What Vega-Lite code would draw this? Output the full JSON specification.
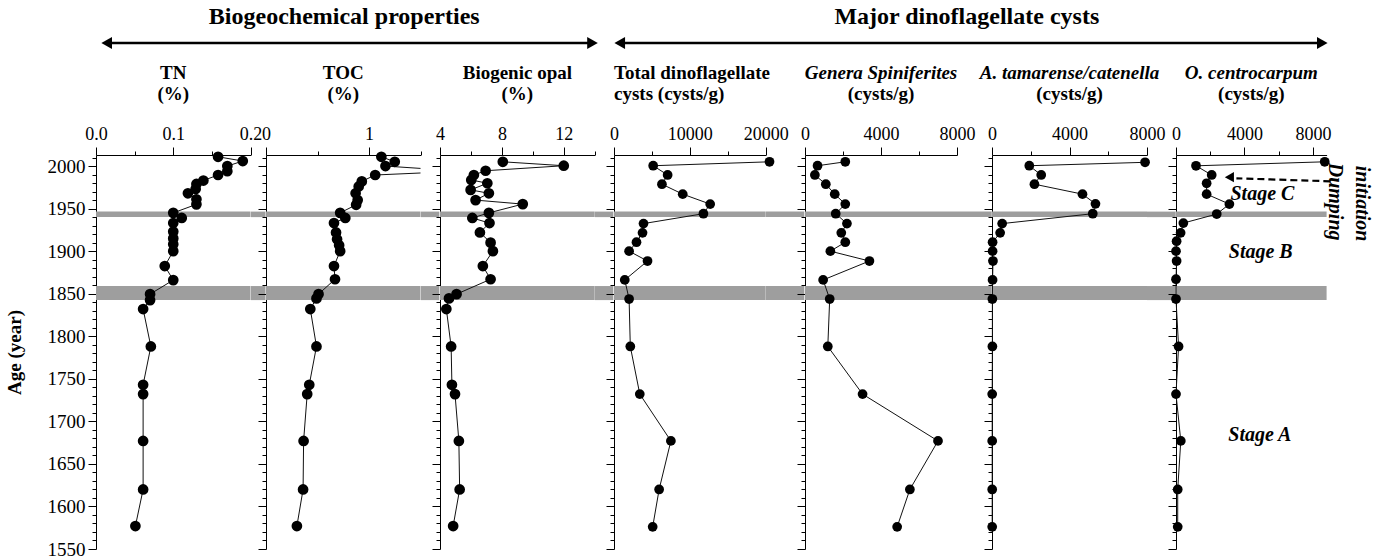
{
  "$schema": "https://vega.github.io/schema/vega-lite/v6.json",
  "background": "white",
  "padding": {"left": 5, "top": 4, "right": 2, "bottom": 0},
  "config": {
    "view": {"stroke": null},
    "font": "Liberation Serif",
    "axis": {"labelFont": "Liberation Serif", "labelFontSize": 18, "labelColor": "#000", "domainColor": "#000", "tickColor": "#000", "grid": false, "zindex": 1, "titleFont": "Liberation Serif", "titleColor": "#000", "labelFlush": false, "labelOverlap": false},
    "title": {"font": "Liberation Serif", "fontSize": 19, "fontWeight": "bold", "color": "#000", "subtitleFont": "Liberation Serif", "subtitleFontSize": 19, "subtitleFontWeight": "bold", "subtitleColor": "#000", "subtitlePadding": 2, "anchor": "middle", "frame": "group", "offset": 21},
    "text": {"font": "Liberation Serif"}
  },
  "datasets": {
    "tn": [
      {"age": 2010.9, "value": 0.158}, {"age": 2005.9, "value": 0.19}, {"age": 2000, "value": 0.17}, {"age": 1994, "value": 0.17}, {"age": 1989.5, "value": 0.158}, {"age": 1983, "value": 0.139}, {"age": 1979, "value": 0.13}, {"age": 1973, "value": 0.129}, {"age": 1968, "value": 0.119}, {"age": 1961, "value": 0.13}, {"age": 1955, "value": 0.13}, {"age": 1945, "value": 0.1}, {"age": 1939, "value": 0.111}, {"age": 1933, "value": 0.1}, {"age": 1923, "value": 0.1}, {"age": 1915, "value": 0.1}, {"age": 1908, "value": 0.1}, {"age": 1900, "value": 0.1}, {"age": 1882.5, "value": 0.089}, {"age": 1866, "value": 0.1}, {"age": 1849.5, "value": 0.07}, {"age": 1842.5, "value": 0.07}, {"age": 1832, "value": 0.061}, {"age": 1788, "value": 0.071}, {"age": 1743, "value": 0.061}, {"age": 1732, "value": 0.061}, {"age": 1677, "value": 0.061}, {"age": 1620, "value": 0.061}, {"age": 1577, "value": 0.051}
    ],
    "toc": [
      {"age": 2010.9, "value": 1.12}, {"age": 2005, "value": 1.25}, {"age": 2000, "value": 1.16}, {"age": 1994, "value": 1.9}, {"age": 1989.5, "value": 1.06}, {"age": 1982, "value": 0.93}, {"age": 1976, "value": 0.9}, {"age": 1968, "value": 0.87}, {"age": 1960, "value": 0.89}, {"age": 1954.5, "value": 0.875}, {"age": 1945, "value": 0.72}, {"age": 1939, "value": 0.77}, {"age": 1933, "value": 0.66}, {"age": 1922, "value": 0.68}, {"age": 1914, "value": 0.69}, {"age": 1907, "value": 0.71}, {"age": 1900, "value": 0.72}, {"age": 1882.5, "value": 0.66}, {"age": 1867, "value": 0.67}, {"age": 1849.5, "value": 0.51}, {"age": 1844.5, "value": 0.49}, {"age": 1832, "value": 0.43}, {"age": 1788, "value": 0.49}, {"age": 1743, "value": 0.42}, {"age": 1732, "value": 0.4}, {"age": 1677, "value": 0.365}, {"age": 1620, "value": 0.36}, {"age": 1577, "value": 0.3}
    ],
    "opal": [
      {"age": 2005, "value": 8.06}, {"age": 2000.4, "value": 12.0}, {"age": 1994.5, "value": 6.95}, {"age": 1989.5, "value": 6.19}, {"age": 1983.7, "value": 6.02}, {"age": 1979.8, "value": 7.06}, {"age": 1972, "value": 5.98}, {"age": 1968, "value": 7.16}, {"age": 1960, "value": 6.3}, {"age": 1955.3, "value": 9.35}, {"age": 1945, "value": 7.16}, {"age": 1939, "value": 6.09}, {"age": 1933, "value": 7.2}, {"age": 1922, "value": 6.58}, {"age": 1910, "value": 7.27}, {"age": 1900, "value": 7.42}, {"age": 1882.5, "value": 6.77}, {"age": 1867, "value": 7.27}, {"age": 1849.5, "value": 5.07}, {"age": 1844.5, "value": 4.58}, {"age": 1832, "value": 4.41}, {"age": 1788, "value": 4.72}, {"age": 1743, "value": 4.77}, {"age": 1732, "value": 4.97}, {"age": 1677, "value": 5.22}, {"age": 1620, "value": 5.27}, {"age": 1577, "value": 4.85}
    ],
    "total": [
      {"age": 2005, "value": 20500}, {"age": 2000.4, "value": 5165}, {"age": 1989.5, "value": 7070}, {"age": 1978.7, "value": 6320}, {"age": 1967, "value": 9060}, {"age": 1955.3, "value": 12680}, {"age": 1944, "value": 11790}, {"age": 1932.4, "value": 3890}, {"age": 1921.5, "value": 3760}, {"age": 1910.5, "value": 2965}, {"age": 1900, "value": 1990}, {"age": 1888.4, "value": 4420}, {"age": 1866.2, "value": 1420}, {"age": 1843.7, "value": 1990}, {"age": 1788, "value": 2150}, {"age": 1732, "value": 3400}, {"age": 1677, "value": 7500}, {"age": 1620, "value": 5950}, {"age": 1576, "value": 5100}
    ],
    "spin": [
      {"age": 2005, "value": 2120}, {"age": 2000.4, "value": 660}, {"age": 1989.5, "value": 520}, {"age": 1978.7, "value": 1095}, {"age": 1967, "value": 1565}, {"age": 1955.3, "value": 2120}, {"age": 1944, "value": 1617}, {"age": 1932.4, "value": 2207}, {"age": 1921.5, "value": 1910}, {"age": 1910.5, "value": 2120}, {"age": 1900, "value": 1335}, {"age": 1888.4, "value": 3390}, {"age": 1866.2, "value": 955}, {"age": 1843.7, "value": 1300}, {"age": 1788, "value": 1200}, {"age": 1732, "value": 3030}, {"age": 1677, "value": 7000}, {"age": 1620, "value": 5520}, {"age": 1576, "value": 4850}
    ],
    "atam": [
      {"age": 2004.4, "value": 7900}, {"age": 2000.4, "value": 1925}, {"age": 1989.5, "value": 2540}, {"age": 1978.7, "value": 2190}, {"age": 1967, "value": 4670}, {"age": 1955.6, "value": 5340}, {"age": 1944, "value": 5200}, {"age": 1932.4, "value": 525}, {"age": 1921.5, "value": 420}, {"age": 1910.5, "value": 30}, {"age": 1900, "value": 30}, {"age": 1888.4, "value": 50}, {"age": 1866.2, "value": 30}, {"age": 1843.7, "value": 20}, {"age": 1788, "value": 20}, {"age": 1732, "value": 10}, {"age": 1677, "value": 10}, {"age": 1620, "value": 10}, {"age": 1576, "value": 10}
    ],
    "ocen": [
      {"age": 2005, "value": 8690}, {"age": 2000.3, "value": 1170}, {"age": 1989.5, "value": 2085}, {"age": 1979.8, "value": 1790}, {"age": 1967, "value": 1790}, {"age": 1955.3, "value": 3120}, {"age": 1943.6, "value": 2380}, {"age": 1933, "value": 430}, {"age": 1921.5, "value": 270}, {"age": 1911.7, "value": 35}, {"age": 1900, "value": 0}, {"age": 1888.4, "value": 35}, {"age": 1867, "value": 0}, {"age": 1843.7, "value": 0}, {"age": 1788, "value": 150}, {"age": 1732, "value": 0}, {"age": 1677, "value": 280}, {"age": 1620, "value": 100}, {"age": 1576, "value": 100}
    ],
    "bands": [{"start": 1940, "end": 1946.5}, {"start": 1842.5, "end": 1859}],
    "notes": [{"label": "Stage C", "value": 5050, "age": 1967.5}, {"label": "Stage B", "value": 4950, "age": 1898.7}, {"label": "Stage A", "value": 4900, "age": 1684.1}],
    "vnotes": [{"label": "Dumping", "value": 9300, "age": 1958.2}, {"label": "initiation", "value": 10890, "age": 1955.9}]
  },
  "vconcat": [
    {
      "hconcat": [
        {
          "width": 496.5, "height": 10,
          "data": {"values": [{}]},
          "title": {"text": "Biogeochemical properties", "fontSize": 24, "fontWeight": "bold", "anchor": "middle", "offset": 8},
          "layer": [
            {"mark": {"type": "rule", "color": "#000", "strokeWidth": 2.5}, "encoding": {"x": {"datum": 0, "type": "quantitative", "scale": {"domain": [-0.022, 1], "nice": false, "zero": false}, "axis": null}, "x2": {"datum": 1}, "y": {"datum": 0, "type": "quantitative", "scale": {"domain": [-1, 1]}, "axis": null}}},
            {"mark": {"type": "point", "shape": "triangle-left", "filled": true, "size": 150, "color": "#000", "opacity": 1}, "encoding": {"x": {"datum": 0, "type": "quantitative"}, "y": {"datum": 0, "type": "quantitative"}}},
            {"mark": {"type": "point", "shape": "triangle-right", "filled": true, "size": 150, "color": "#000", "opacity": 1}, "encoding": {"x": {"datum": 1, "type": "quantitative"}, "y": {"datum": 0, "type": "quantitative"}}}
          ]
        },
        {
          "width": 711, "height": 10,
          "data": {"values": [{}]},
          "title": {"text": "Major dinoflagellate cysts", "fontSize": 24, "fontWeight": "bold", "anchor": "middle", "offset": 8},
          "layer": [
            {"mark": {"type": "rule", "color": "#000", "strokeWidth": 2.5}, "encoding": {"x": {"datum": 0, "type": "quantitative", "scale": {"domain": [-0.012, 1], "nice": false, "zero": false}, "axis": null}, "x2": {"datum": 1}, "y": {"datum": 0, "type": "quantitative", "scale": {"domain": [-1, 1]}, "axis": null}}},
            {"mark": {"type": "point", "shape": "triangle-left", "filled": true, "size": 150, "color": "#000", "opacity": 1}, "encoding": {"x": {"datum": 0, "type": "quantitative"}, "y": {"datum": 0, "type": "quantitative"}}},
            {"mark": {"type": "point", "shape": "triangle-right", "filled": true, "size": 150, "color": "#000", "opacity": 1}, "encoding": {"x": {"datum": 1, "type": "quantitative"}, "y": {"datum": 0, "type": "quantitative"}}}
          ]
        }
      ],
      "spacing": 18.3,
      "bounds": "flush"
    },
    {
      "hconcat": [
        {
          "width": 154.5, "height": 394,
          "title": {"text": "TN", "subtitle": "(%)"},
          "layer": [
            {"data": {"name": "bands"}, "mark": {"type": "rect", "color": "#9e9e9e"}, "encoding": {"y": {"field": "start", "type": "quantitative", "scale": {"domain": [1550, 2013], "nice": false, "zero": false}, "axis": null}, "y2": {"field": "end"}}},
            {"data": {"name": "tn"}, "mark": {"type": "line", "color": "#111", "strokeWidth": 1}, "encoding": {
              "x": {"field": "value", "type": "quantitative", "scale": {"domain": [0, 0.2], "nice": false, "zero": false}, "axis": {"orient": "top", "values": [0, 0.1, 0.2], "format": ".1f", "tickSize": 8, "labelPadding": 4, "title": null}},
              "y": {"field": "age", "type": "quantitative", "scale": {"domain": [1550, 2013], "nice": false, "zero": false}, "axis": {"orient": "left", "values": [1550, 1600, 1650, 1700, 1750, 1800, 1850, 1900, 1950, 2000], "format": "d", "tickSize": 8, "labelPadding": 3, "labelFontSize": 19, "title": "Age (year)", "titleFontSize": 19, "titleFontWeight": "bold", "titlePadding": 23}},
              "order": {"field": "age", "type": "quantitative"}}},
            {"data": {"name": "tn"}, "mark": {"type": "circle", "color": "#000", "size": 115, "opacity": 1}, "encoding": {
              "x": {"field": "value", "type": "quantitative", "axis": {"orient": "top", "values": [0.05, 0.15], "tickSize": 4, "labels": false, "domain": false, "title": null}},
              "y": {"field": "age", "type": "quantitative", "axis": {"orient": "left", "values": [1560, 1570, 1580, 1590, 1610, 1620, 1630, 1640, 1660, 1670, 1680, 1690, 1710, 1720, 1730, 1740, 1760, 1770, 1780, 1790, 1810, 1820, 1830, 1840, 1860, 1870, 1880, 1890, 1910, 1920, 1930, 1940, 1960, 1970, 1980, 1990, 2010], "tickSize": 4, "labels": false, "domain": false, "title": null}}}}
          ],
          "resolve": {"axis": {"x": "independent", "y": "independent"}}
        },
        {"width": 14.5, "height": 394, "data": {"name": "bands"}, "mark": {"type": "rect", "color": "#9e9e9e"}, "encoding": {"y": {"field": "start", "type": "quantitative", "scale": {"domain": [1550, 2013], "nice": false, "zero": false}, "axis": null}, "y2": {"field": "end"}}},
        {
          "width": 154.5, "height": 394,
          "title": {"text": "TOC", "subtitle": "(%)"},
          "layer": [
            {"data": {"name": "bands"}, "mark": {"type": "rect", "color": "#9e9e9e"}, "encoding": {"y": {"field": "start", "type": "quantitative", "scale": {"domain": [1550, 2013], "nice": false, "zero": false}, "axis": null}, "y2": {"field": "end"}}},
            {"data": {"name": "toc"}, "mark": {"type": "line", "color": "#111", "strokeWidth": 1, "clip": true}, "encoding": {
              "x": {"field": "value", "type": "quantitative", "scale": {"domain": [0, 1.5], "nice": false, "zero": false}, "axis": {"orient": "top", "values": [0, 1], "format": "d", "tickSize": 8, "labelPadding": 4, "title": null}},
              "y": {"field": "age", "type": "quantitative", "scale": {"domain": [1550, 2013], "nice": false, "zero": false}, "axis": {"orient": "left", "values": [1550, 1600, 1650, 1700, 1750, 1800, 1850, 1900, 1950, 2000], "tickSize": 8, "labels": false, "title": null}},
              "order": {"field": "age", "type": "quantitative"}}},
            {"data": {"name": "toc"}, "transform": [{"filter": "datum.value <= 1.5"}], "mark": {"type": "circle", "color": "#000", "size": 115, "opacity": 1}, "encoding": {
              "x": {"field": "value", "type": "quantitative", "axis": {"orient": "top", "values": [0.5, 1.5], "tickSize": 4, "labels": false, "domain": false, "title": null}},
              "y": {"field": "age", "type": "quantitative", "axis": {"orient": "left", "values": [1560, 1570, 1580, 1590, 1610, 1620, 1630, 1640, 1660, 1670, 1680, 1690, 1710, 1720, 1730, 1740, 1760, 1770, 1780, 1790, 1810, 1820, 1830, 1840, 1860, 1870, 1880, 1890, 1910, 1920, 1930, 1940, 1960, 1970, 1980, 1990, 2010], "tickSize": 4, "labels": false, "domain": false, "title": null}}}}
          ],
          "resolve": {"axis": {"x": "independent", "y": "independent"}}
        },
        {"width": 18.3, "height": 394, "data": {"name": "bands"}, "mark": {"type": "rect", "color": "#9e9e9e"}, "encoding": {"y": {"field": "start", "type": "quantitative", "scale": {"domain": [1550, 2013], "nice": false, "zero": false}, "axis": null}, "y2": {"field": "end"}}},
        {
          "width": 154.7, "height": 394,
          "title": {"text": "Biogenic opal", "subtitle": "(%)"},
          "layer": [
            {"data": {"name": "bands"}, "mark": {"type": "rect", "color": "#9e9e9e"}, "encoding": {"y": {"field": "start", "type": "quantitative", "scale": {"domain": [1550, 2013], "nice": false, "zero": false}, "axis": null}, "y2": {"field": "end"}}},
            {"data": {"name": "opal"}, "mark": {"type": "line", "color": "#111", "strokeWidth": 1}, "encoding": {
              "x": {"field": "value", "type": "quantitative", "scale": {"domain": [4, 14], "nice": false, "zero": false}, "axis": {"orient": "top", "values": [4, 8, 12], "format": "d", "tickSize": 8, "labelPadding": 4, "title": null}},
              "y": {"field": "age", "type": "quantitative", "scale": {"domain": [1550, 2013], "nice": false, "zero": false}, "axis": {"orient": "left", "values": [1550, 1600, 1650, 1700, 1750, 1800, 1850, 1900, 1950, 2000], "tickSize": 8, "labels": false, "title": null}},
              "order": {"field": "age", "type": "quantitative"}}},
            {"data": {"name": "opal"}, "mark": {"type": "circle", "color": "#000", "size": 115, "opacity": 1}, "encoding": {
              "x": {"field": "value", "type": "quantitative", "axis": {"orient": "top", "values": [6, 10, 14], "tickSize": 4, "labels": false, "domain": false, "title": null}},
              "y": {"field": "age", "type": "quantitative", "axis": {"orient": "left", "values": [1560, 1570, 1580, 1590, 1610, 1620, 1630, 1640, 1660, 1670, 1680, 1690, 1710, 1720, 1730, 1740, 1760, 1770, 1780, 1790, 1810, 1820, 1830, 1840, 1860, 1870, 1880, 1890, 1910, 1920, 1930, 1940, 1960, 1970, 1980, 1990, 2010], "tickSize": 4, "labels": false, "domain": false, "title": null}}}}
          ],
          "resolve": {"axis": {"x": "independent", "y": "independent"}}
        },
        {"width": 18.3, "height": 394, "data": {"name": "bands"}, "mark": {"type": "rect", "color": "#9e9e9e"}, "encoding": {"y": {"field": "start", "type": "quantitative", "scale": {"domain": [1550, 2013], "nice": false, "zero": false}, "axis": null}, "y2": {"field": "end"}}},
        {
          "width": 151.7, "height": 394,
          "title": {"text": "Total dinoflagellate", "subtitle": "cysts (cysts/g)", "anchor": "start"},
          "layer": [
            {"data": {"name": "bands"}, "mark": {"type": "rect", "color": "#9e9e9e"}, "encoding": {"y": {"field": "start", "type": "quantitative", "scale": {"domain": [1550, 2013], "nice": false, "zero": false}, "axis": null}, "y2": {"field": "end"}}},
            {"data": {"name": "total"}, "mark": {"type": "line", "color": "#111", "strokeWidth": 1}, "encoding": {
              "x": {"field": "value", "type": "quantitative", "scale": {"domain": [0, 20000], "nice": false, "zero": false}, "axis": {"orient": "top", "values": [0, 10000, 20000], "format": "d", "tickSize": 8, "labelPadding": 4, "title": null}},
              "y": {"field": "age", "type": "quantitative", "scale": {"domain": [1550, 2013], "nice": false, "zero": false}, "axis": {"orient": "left", "values": [1550, 1600, 1650, 1700, 1750, 1800, 1850, 1900, 1950, 2000], "tickSize": 8, "labels": false, "title": null}},
              "order": {"field": "age", "type": "quantitative"}}},
            {"data": {"name": "total"}, "mark": {"type": "circle", "color": "#000", "size": 95, "opacity": 1}, "encoding": {
              "x": {"field": "value", "type": "quantitative", "axis": {"orient": "top", "values": [5000, 15000], "tickSize": 4, "labels": false, "domain": false, "title": null}},
              "y": {"field": "age", "type": "quantitative", "axis": {"orient": "left", "values": [1560, 1570, 1580, 1590, 1610, 1620, 1630, 1640, 1660, 1670, 1680, 1690, 1710, 1720, 1730, 1740, 1760, 1770, 1780, 1790, 1810, 1820, 1830, 1840, 1860, 1870, 1880, 1890, 1910, 1920, 1930, 1940, 1960, 1970, 1980, 1990, 2010], "tickSize": 4, "labels": false, "domain": false, "title": null}}}}
          ],
          "resolve": {"axis": {"x": "independent", "y": "independent"}}
        },
        {"width": 38.3, "height": 394, "data": {"name": "bands"}, "mark": {"type": "rect", "color": "#9e9e9e"}, "encoding": {"y": {"field": "start", "type": "quantitative", "scale": {"domain": [1550, 2013], "nice": false, "zero": false}, "axis": null}, "y2": {"field": "end"}}},
        {
          "width": 152, "height": 394,
          "title": {"text": "Genera Spiniferites", "subtitle": "(cysts/g)", "fontStyle": "italic"},
          "layer": [
            {"data": {"name": "bands"}, "mark": {"type": "rect", "color": "#9e9e9e"}, "encoding": {"y": {"field": "start", "type": "quantitative", "scale": {"domain": [1550, 2013], "nice": false, "zero": false}, "axis": null}, "y2": {"field": "end"}}},
            {"data": {"name": "spin"}, "mark": {"type": "line", "color": "#111", "strokeWidth": 1}, "encoding": {
              "x": {"field": "value", "type": "quantitative", "scale": {"domain": [0, 8000], "nice": false, "zero": false}, "axis": {"orient": "top", "values": [0, 4000, 8000], "format": "d", "tickSize": 8, "labelPadding": 4, "title": null}},
              "y": {"field": "age", "type": "quantitative", "scale": {"domain": [1550, 2013], "nice": false, "zero": false}, "axis": {"orient": "left", "values": [1550, 1600, 1650, 1700, 1750, 1800, 1850, 1900, 1950, 2000], "tickSize": 8, "labels": false, "title": null}},
              "order": {"field": "age", "type": "quantitative"}}},
            {"data": {"name": "spin"}, "mark": {"type": "circle", "color": "#000", "size": 95, "opacity": 1}, "encoding": {
              "x": {"field": "value", "type": "quantitative", "axis": {"orient": "top", "values": [2000, 6000], "tickSize": 4, "labels": false, "domain": false, "title": null}},
              "y": {"field": "age", "type": "quantitative", "axis": {"orient": "left", "values": [1560, 1570, 1580, 1590, 1610, 1620, 1630, 1640, 1660, 1670, 1680, 1690, 1710, 1720, 1730, 1740, 1760, 1770, 1780, 1790, 1810, 1820, 1830, 1840, 1860, 1870, 1880, 1890, 1910, 1920, 1930, 1940, 1960, 1970, 1980, 1990, 2010], "tickSize": 4, "labels": false, "domain": false, "title": null}}}}
          ],
          "resolve": {"axis": {"x": "independent", "y": "independent"}}
        },
        {"width": 34.7, "height": 394, "data": {"name": "bands"}, "mark": {"type": "rect", "color": "#9e9e9e"}, "encoding": {"y": {"field": "start", "type": "quantitative", "scale": {"domain": [1550, 2013], "nice": false, "zero": false}, "axis": null}, "y2": {"field": "end"}}},
        {
          "width": 155, "height": 394,
          "title": {"text": "A. tamarense/catenella", "subtitle": "(cysts/g)", "fontStyle": "italic"},
          "layer": [
            {"data": {"name": "bands"}, "mark": {"type": "rect", "color": "#9e9e9e"}, "encoding": {"y": {"field": "start", "type": "quantitative", "scale": {"domain": [1550, 2013], "nice": false, "zero": false}, "axis": null}, "y2": {"field": "end"}}},
            {"data": {"name": "atam"}, "mark": {"type": "line", "color": "#111", "strokeWidth": 1}, "encoding": {
              "x": {"field": "value", "type": "quantitative", "scale": {"domain": [0, 8000], "nice": false, "zero": false}, "axis": {"orient": "top", "values": [0, 4000, 8000], "format": "d", "tickSize": 8, "labelPadding": 4, "title": null}},
              "y": {"field": "age", "type": "quantitative", "scale": {"domain": [1550, 2013], "nice": false, "zero": false}, "axis": {"orient": "left", "values": [1550, 1600, 1650, 1700, 1750, 1800, 1850, 1900, 1950, 2000], "tickSize": 8, "labels": false, "title": null}},
              "order": {"field": "age", "type": "quantitative"}}},
            {"data": {"name": "atam"}, "mark": {"type": "circle", "color": "#000", "size": 95, "opacity": 1}, "encoding": {
              "x": {"field": "value", "type": "quantitative", "axis": {"orient": "top", "values": [2000, 6000], "tickSize": 4, "labels": false, "domain": false, "title": null}},
              "y": {"field": "age", "type": "quantitative", "axis": {"orient": "left", "values": [1560, 1570, 1580, 1590, 1610, 1620, 1630, 1640, 1660, 1670, 1680, 1690, 1710, 1720, 1730, 1740, 1760, 1770, 1780, 1790, 1810, 1820, 1830, 1840, 1860, 1870, 1880, 1890, 1910, 1920, 1930, 1940, 1960, 1970, 1980, 1990, 2010], "tickSize": 4, "labels": false, "domain": false, "title": null}}}}
          ],
          "resolve": {"axis": {"x": "independent", "y": "independent"}}
        },
        {"width": 28.7, "height": 394, "data": {"name": "bands"}, "mark": {"type": "rect", "color": "#9e9e9e"}, "encoding": {"y": {"field": "start", "type": "quantitative", "scale": {"domain": [1550, 2013], "nice": false, "zero": false}, "axis": null}, "y2": {"field": "end"}}},
        {
          "width": 150.6, "height": 394,
          "title": {"text": "O. centrocarpum", "subtitle": "(cysts/g)", "fontStyle": "italic"},
          "layer": [
            {"data": {"name": "bands"}, "mark": {"type": "rect", "color": "#9e9e9e"}, "encoding": {"y": {"field": "start", "type": "quantitative", "scale": {"domain": [1550, 2013], "nice": false, "zero": false}, "axis": null}, "y2": {"field": "end"}}},
            {"data": {"name": "ocen"}, "mark": {"type": "line", "color": "#111", "strokeWidth": 1}, "encoding": {
              "x": {"field": "value", "type": "quantitative", "scale": {"domain": [0, 8800], "nice": false, "zero": false}, "axis": {"orient": "top", "values": [0, 4000, 8000], "format": "d", "tickSize": 8, "labelPadding": 4, "title": null}},
              "y": {"field": "age", "type": "quantitative", "scale": {"domain": [1550, 2013], "nice": false, "zero": false}, "axis": {"orient": "left", "values": [1550, 1600, 1650, 1700, 1750, 1800, 1850, 1900, 1950, 2000], "tickSize": 8, "labels": false, "title": null}},
              "order": {"field": "age", "type": "quantitative"}}},
            {"data": {"name": "ocen"}, "mark": {"type": "circle", "color": "#000", "size": 95, "opacity": 1}, "encoding": {
              "x": {"field": "value", "type": "quantitative", "axis": {"orient": "top", "values": [2000, 6000], "tickSize": 4, "labels": false, "domain": false, "title": null}},
              "y": {"field": "age", "type": "quantitative", "axis": {"orient": "left", "values": [1560, 1570, 1580, 1590, 1610, 1620, 1630, 1640, 1660, 1670, 1680, 1690, 1710, 1720, 1730, 1740, 1760, 1770, 1780, 1790, 1810, 1820, 1830, 1840, 1860, 1870, 1880, 1890, 1910, 1920, 1930, 1940, 1960, 1970, 1980, 1990, 2010], "tickSize": 4, "labels": false, "domain": false, "title": null}}}},
            {"data": {"name": "notes"}, "mark": {"type": "text", "font": "Liberation Serif", "fontSize": 20, "fontWeight": "bold", "fontStyle": "italic", "color": "#000", "align": "center", "baseline": "middle"}, "encoding": {"x": {"field": "value", "type": "quantitative", "axis": null}, "y": {"field": "age", "type": "quantitative", "axis": null}, "text": {"field": "label"}}},
            {"data": {"name": "vnotes"}, "mark": {"type": "text", "font": "Liberation Serif", "fontSize": 20, "fontWeight": "bold", "fontStyle": "italic", "color": "#000", "align": "center", "baseline": "middle", "angle": 90}, "encoding": {"x": {"field": "value", "type": "quantitative", "axis": null}, "y": {"field": "age", "type": "quantitative", "axis": null}, "text": {"field": "label"}}},
            {"data": {"values": [{}]}, "mark": {"type": "rule", "color": "#000", "strokeWidth": 2.2, "strokeDash": [7, 4]}, "encoding": {"x": {"datum": 9018, "type": "quantitative", "axis": null}, "x2": {"datum": 3530}, "y": {"datum": 1982.1, "type": "quantitative", "axis": null}, "y2": {"datum": 1985.6}}},
            {"data": {"values": [{}]}, "mark": {"type": "point", "shape": "triangle-left", "filled": true, "size": 110, "color": "#000", "opacity": 1}, "encoding": {"x": {"datum": 3120, "type": "quantitative", "axis": null}, "y": {"datum": 1987.0, "type": "quantitative", "axis": null}}}
          ],
          "resolve": {"axis": {"x": "independent", "y": "independent"}}
        }
      ],
      "spacing": 0,
      "bounds": "flush"
    }
  ],
  "spacing": 117,
  "bounds": "flush"
}
